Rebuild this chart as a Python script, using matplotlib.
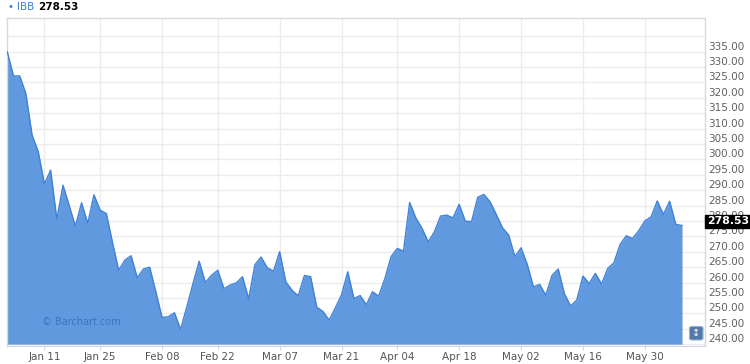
import matplotlib
matplotlib.use("Agg")
import matplotlib.pyplot as plt
import matplotlib.patches as mpatches
from matplotlib.transforms import ScaledTranslation
import numpy as np
import pandas as pd

# IBB daily closes, 2015-12-31 .. 2016-06-08
close = [334.9, 327.1, 327.1, 321.4, 307.9, 302.5, 292.0, 296.5, 280.6, 291.6,
         285.0, 278.3, 285.9, 279.2, 288.5, 283.5, 282.4, 273.0, 264.0, 267.3,
         268.7, 261.6, 264.4, 265.0, 257.0, 248.7, 248.9, 250.2, 244.8, 252.1,
         259.7, 266.9, 260.0, 262.4, 264.0, 258.0, 259.2, 259.9, 261.9, 254.7,
         265.8, 268.3, 264.8, 263.7, 270.0, 260.2, 257.5, 255.7, 262.3, 261.9,
         252.0, 250.6, 247.8, 251.8, 256.0, 263.5, 254.8, 255.8, 252.8, 257.0,
         255.6, 261.3, 268.4, 271.1, 270.2, 286.0, 281.0, 277.6, 273.2, 276.5,
         281.6, 281.9, 281.0, 285.4, 279.9, 279.8, 287.7, 288.6, 286.2, 282.1,
         277.8, 275.4, 268.4, 271.3, 265.9, 258.6, 259.4, 255.9, 262.3, 264.4,
         256.4, 252.4, 254.3, 262.1, 259.7, 263.0, 259.5, 264.6, 266.4, 272.4,
         275.2, 274.3, 276.8, 280.0, 281.3, 286.5, 282.1, 286.4, 278.9, 278.53]
last_price = 278.53
symbol = "IBB"

holidays = ["2016-01-01", "2016-01-18", "2016-02-15", "2016-03-25", "2016-05-30"]
tick_dates = ["2016-01-11", "2016-01-25", "2016-02-08", "2016-02-22", "2016-03-07",
              "2016-03-21", "2016-04-04", "2016-04-18", "2016-05-02", "2016-05-16",
              "2016-05-30"]
tick_labels = ["Jan 11", "Jan 25", "Feb 08", "Feb 22", "Mar 07", "Mar 21",
               "Apr 04", "Apr 18", "May 02", "May 16", "May 30"]
price_ticks = np.arange(240, 345, 5)

# trading days -> ordinal x positions (no gaps for weekends/holidays)
days = pd.bdate_range("2015-12-31", periods=120)
days = days[~days.isin(pd.to_datetime(holidays))][:len(close)]
x = np.arange(len(close))
tick_pos = days.searchsorted(pd.to_datetime(tick_dates))

W, H = 750, 364
fig = plt.figure(figsize=(W/100, H/100), dpi=100)
ax = fig.add_axes([7.3/W, 1-346/H, (705-7.3)/W, (346-18)/H])

ax.fill_between(x, close, 240, color='#6199df', lw=0, zorder=2)
ax.plot(x, close, color='#3f82d8', lw=1, zorder=3)

ax.set_xlim(0, (705-7.3)/6.19)
ax.set_ylim(239.4, 345.9)

ax.set_xticks(tick_pos)
ax.set_xticklabels(tick_labels)
ax.set_yticks(price_ticks)
ax.set_yticklabels(['%.2f' % v if v < 340 else '' for v in price_ticks])
ax.yaxis.tick_right()
ax.tick_params(axis='x', length=3, color='#ccd6eb', labelsize=7.5, labelcolor='#555555', pad=1)
ax.tick_params(axis='y', length=0, labelsize=7.5, labelcolor='#606060', pad=2)
# labels sit just above their grid line
for lab in ax.get_yticklabels():
    lab.set_transform(lab.get_transform() + ScaledTranslation(0, 6/100, fig.dpi_scale_trans))

ax.grid(True, color='#ececec', lw=1)
ax.set_axisbelow(True)
for s in ['top', 'left', 'right']:
    ax.spines[s].set_color('#d9d9d9')
    ax.spines[s].set_linewidth(1)
ax.spines['bottom'].set_color('#ccd6eb')

# last price flag on the right axis
ax.text(1.0025, last_price, '%.2f' % last_price, transform=ax.get_yaxis_transform() + ScaledTranslation(0, 4/100, fig.dpi_scale_trans),
        color='white', weight='bold', fontsize=7.8, va='center', ha='left', zorder=10, clip_on=False,
        bbox=dict(facecolor='black', edgecolor='black', pad=1.2))

# header
fig.text(7.5/W, 1-7.5/H, u'\u2022', color='#3f82d8', fontsize=7.5, va='center')
fig.text(16.5/W, 1-7.5/H, symbol, color='#3f82d8', fontsize=7.5, va='center')
fig.text(38/W, 1-7.5/H, '%.2f' % last_price, color='black', fontsize=7.5, weight='bold', va='center')

# watermark
ax.text(42/W, 1-322/H, u'\u00a9 Barchart.com', transform=fig.transFigure, color='#3e73bd', fontsize=7, va='center', zorder=5)

# navigator button
btn = mpatches.FancyBboxPatch((689.5/W, 1-340/H), 13.5/W, 13.5/H, boxstyle='round,pad=0,rounding_size=0.004',
                              transform=fig.transFigure, facecolor='#5479a8', edgecolor='#8fb0d6', lw=0.8, zorder=10)
fig.patches.append(btn)
fig.text(696.3/W, 1-333.2/H, u'\u2195', color='white', fontsize=7, ha='center', va='center', zorder=11)

fig.savefig('out.png', dpi=100)
